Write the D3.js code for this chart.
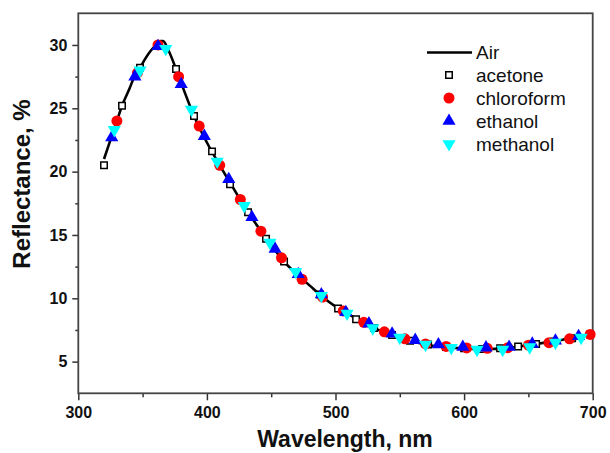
<!DOCTYPE html>
<html><head><meta charset="utf-8">
<script src="https://cdn.jsdelivr.net/npm/d3@7"></script>
<style>
html,body{margin:0;padding:0;background:#fff;}
svg{display:block;font-family:"Liberation Sans",Arial,sans-serif;}
</style></head>
<body><svg id="c" width="610" height="453"></svg>
<script>
// Air reference curve (wavelength nm, reflectance %)
const airWl = [320,326,330,334,340,344,348,352,356,360,364,366,370,376,380,390,400,410,420,430,440,450,460,470,480,490,500,510,520,530,540,550,560,570,580,590,600,610,620,630,640,650,660,670,680,690,700];
const airR  = [21.0,22.8,24.0,25.2,26.6,27.6,28.2,28.9,29.5,29.95,30.3,30.3,29.6,28.1,27.0,24.4,22.3,20.5,18.8,17.1,15.6,14.2,12.9,11.9,11.0,10.1,9.35,8.75,8.2,7.65,7.25,6.85,6.6,6.35,6.2,6.1,6.05,6.0,6.0,6.05,6.15,6.3,6.45,6.6,6.8,7.0,7.2];

const acetoneWl = [320,334,348,362,376,390,404,418,432,446,460,474,488,502,516,530,544,558,572,586,600,614,628,642,656,670,684,698];
const acetoneR  = [20.5,25.2,28.2,30.0,28.1,24.4,21.6,19.0,16.8,14.7,12.9,11.5,10.3,9.2,8.35,7.65,7.1,6.65,6.35,6.15,6.05,6.0,6.05,6.2,6.4,6.6,6.85,7.15];

const chloroformWl = [330,346,362,378,394,410,426,442,458,474,490,506,522,538,554,570,586,602,618,634,650,666,682,698];
const chloroformR  = [24.0,27.8,30.0,27.5,23.6,20.5,17.8,15.3,13.2,11.5,10.1,9.0,8.1,7.35,6.8,6.4,6.2,6.08,6.05,6.1,6.3,6.5,6.8,7.15];

const ethanolWl = [326,344,362,380,398,417,435,453,471,489,508,526,544,562,580,599,617,635,653,671,689];
const ethanolR  = [22.7,27.5,29.9,26.9,22.8,19.4,16.4,13.9,11.9,10.3,8.9,8.0,7.2,6.7,6.35,6.15,6.1,6.15,6.4,6.65,7.0];

const methanolWl = [328,348,368,388,408,429,449,469,489,509,529,550,570,590,610,630,651,671,691];
const methanolR  = [23.3,28.0,29.7,24.9,20.8,17.3,14.4,12.1,10.2,8.8,7.65,6.9,6.35,6.1,5.95,5.95,6.15,6.5,6.9];

const xTicks = [300,400,500,600,700];
const yTicks = [5,10,15,20,25,30];
const legendNames = ["Air","acetone","chloroform","ethanol","methanol"];

const svg = d3.select("#c");
const L = 78.3, R = 592.7, T = 13.3, B = 393.3;
const x = d3.scaleLinear().domain([300,700]).range([L,R]);
const y = d3.scaleLinear().domain([2.5,32.5]).range([B,T]);

// axes
const xAxis = d3.axisBottom(x).tickValues(xTicks).tickSize(7).tickPadding(6).tickFormat(d3.format("d"));
const xMinor = d3.axisBottom(x).tickValues([350,450,550,650]).tickSize(4).tickFormat("");
const yAxis = d3.axisLeft(y).tickValues(yTicks).tickSize(6).tickPadding(5).tickFormat(d3.format("d"));
const yMinor = d3.axisLeft(y).tickValues([7.5,12.5,17.5,22.5,27.5]).tickSize(3).tickFormat("");

function style(g){
  g.select(".domain").remove();
  g.selectAll(".tick line").attr("stroke","#333").attr("stroke-width",1.5);
  g.selectAll(".tick text").attr("fill","#111").style("font-size","16px").style("font-weight","bold").style("font-family","'Liberation Sans',Arial,sans-serif");
}
svg.append("g").attr("transform",`translate(0,${B})`).call(xAxis).call(style);
svg.append("g").attr("transform",`translate(0,${B})`).call(xMinor).call(style);
svg.append("g").attr("transform",`translate(${L},0)`).call(yAxis).call(style);
svg.append("g").attr("transform",`translate(${L},0)`).call(yMinor).call(style);

// frame
svg.append("rect").attr("x",L).attr("y",T).attr("width",R-L).attr("height",B-T)
  .attr("fill","none").attr("stroke","#444").attr("stroke-width",1.8);

// titles
svg.append("text").attr("x",345).attr("y",447).attr("text-anchor","middle")
  .style("font-size","23px").style("font-weight","bold").attr("fill","#111").text("Wavelength, nm");
svg.append("text").attr("transform","translate(30,184) rotate(-90)").attr("text-anchor","middle")
  .style("font-size","24px").style("font-weight","bold").attr("fill","#111").text("Reflectance, %");

// Air curve
const air = airWl.map((w,i)=>[w,airR[i]]);
svg.append("path").datum(air)
  .attr("d", d3.line().x(d=>x(d[0])).y(d=>y(d[1])).curve(d3.curveMonotoneX))
  .attr("fill","none").attr("stroke","#000").attr("stroke-width",2.6);

const sq = d3.symbol().type(d3.symbolSquare).size(42);
const circ = d3.symbol().type(d3.symbolCircle).size(95);
const triUp = d3.symbol().type(d3.symbolTriangle).size(75);

function pts(wl, r){ return wl.map((w,i)=>[w,r[i]]); }

svg.append("g").selectAll("path").data(pts(acetoneWl,acetoneR)).join("path")
  .attr("d",sq).attr("transform",d=>`translate(${x(d[0])},${y(d[1])})`)
  .attr("fill","#fff").attr("stroke","#000").attr("stroke-width",1.5);
svg.append("g").selectAll("path").data(pts(chloroformWl,chloroformR)).join("path")
  .attr("d",circ).attr("transform",d=>`translate(${x(d[0])},${y(d[1])})`)
  .attr("fill","#ff0000");
svg.append("g").selectAll("path").data(pts(ethanolWl,ethanolR)).join("path")
  .attr("d",triUp).attr("transform",d=>`translate(${x(d[0])},${y(d[1])})`)
  .attr("fill","#0000ff");
svg.append("g").selectAll("path").data(pts(methanolWl,methanolR)).join("path")
  .attr("d",triUp).attr("transform",d=>`translate(${x(d[0])},${y(d[1])}) rotate(180)`)
  .attr("fill","#00ffff");

// legend
const lg = svg.append("g");
const rows = [52.5,75,98,121,144];
lg.append("line").attr("x1",427).attr("x2",472).attr("y1",rows[0]).attr("y2",rows[0])
  .attr("stroke","#000").attr("stroke-width",2.6);
lg.append("path").attr("d",sq).attr("transform",`translate(449,${rows[1]})`).attr("fill","#fff").attr("stroke","#000").attr("stroke-width",1.5);
lg.append("path").attr("d",circ).attr("transform",`translate(449,${rows[2]})`).attr("fill","#ff0000");
lg.append("path").attr("d",triUp).attr("transform",`translate(449,${rows[3]})`).attr("fill","#0000ff");
lg.append("path").attr("d",triUp).attr("transform",`translate(449,${rows[4]}) rotate(180)`).attr("fill","#00ffff");
legendNames.forEach((n,i)=>{
  lg.append("text").attr("x",476).attr("y",rows[i]).attr("dy","0.35em")
    .style("font-size","19px").attr("fill","#111").text(n);
});
</script></body></html>
